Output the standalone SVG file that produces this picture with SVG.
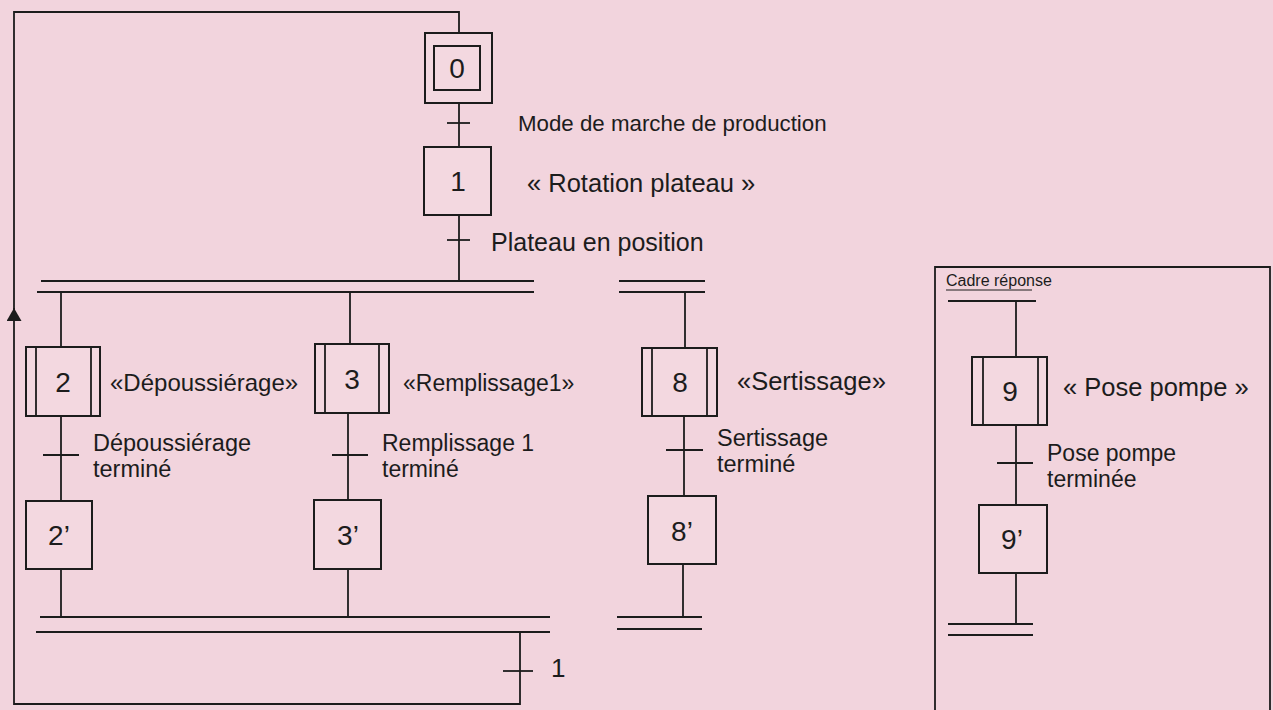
<svg xmlns="http://www.w3.org/2000/svg" width="1273" height="710" viewBox="0 0 1273 710">
<style>
.ln{stroke:#1c1c1c;stroke-width:1.8;fill:none}
.bar{stroke:#1c1c1c;stroke-width:2;fill:none}
.box{stroke:#1c1c1c;stroke-width:2;fill:#f3d8e0}
.num{font-family:"Liberation Sans",Arial,sans-serif;font-size:28px;fill:#1c1c1c;text-anchor:middle}
.lbl{font-family:"Liberation Sans",Arial,sans-serif;font-size:23.5px;fill:#1c1c1c}
.sm{font-family:"Liberation Sans",Arial,sans-serif;font-size:16px;fill:#1c1c1c}
</style>
<defs>
<marker id="arr" viewBox="0 0 10 10" refX="10" refY="5" markerUnits="userSpaceOnUse" markerWidth="13" markerHeight="15" preserveAspectRatio="none" orient="auto">
<path d="M0,0 L10,5 L0,10 z" fill="#1c1c1c"/>
</marker>
</defs>
<rect x="0" y="0" width="1273" height="710" fill="#f2d4dd"/>

<g id="connectors">
<path class="ln" d="M520,632 L520,704 L14,704 L14,308" marker-end="url(#arr)"/>
<path class="ln" d="M14,310 L14,12 L459,12 L459,33"/>
<line class="ln" x1="459" y1="103" x2="459" y2="147"/>
<line class="ln" x1="447" y1="123" x2="470" y2="123"/>
<line class="ln" x1="459" y1="215" x2="459" y2="281"/>
<line class="ln" x1="447" y1="240" x2="470" y2="240"/>
<line class="bar" x1="41" y1="281" x2="534" y2="281"/>
<line class="bar" x1="37" y1="292" x2="534" y2="292"/>
<line class="bar" x1="619" y1="281" x2="705" y2="281"/>
<line class="bar" x1="619" y1="292" x2="705" y2="292"/>
<line class="ln" x1="61" y1="292" x2="61" y2="347"/>
<line class="ln" x1="61" y1="416" x2="61" y2="501"/>
<line class="ln" x1="43" y1="455" x2="79" y2="455"/>
<line class="ln" x1="61" y1="569" x2="61" y2="617"/>
<line class="ln" x1="350" y1="292" x2="350" y2="344"/>
<line class="ln" x1="348" y1="413" x2="348" y2="500"/>
<line class="ln" x1="332" y1="455" x2="368" y2="455"/>
<line class="ln" x1="348" y1="569" x2="348" y2="617"/>
<line class="ln" x1="685" y1="292" x2="685" y2="348"/>
<line class="ln" x1="684" y1="416" x2="684" y2="496"/>
<line class="ln" x1="666" y1="450" x2="703" y2="450"/>
<line class="ln" x1="683" y1="564" x2="683" y2="617"/>
<line class="bar" x1="617" y1="617" x2="702" y2="617"/>
<line class="bar" x1="617" y1="629" x2="702" y2="629"/>
<line class="bar" x1="40" y1="617" x2="550" y2="617"/>
<line class="bar" x1="36" y1="632" x2="550" y2="632"/>
<line class="ln" x1="503" y1="671" x2="533" y2="671"/>
<line class="bar" x1="948" y1="301" x2="1036" y2="301"/>
<line class="ln" x1="1016" y1="301" x2="1016" y2="357"/>
<line class="ln" x1="1016" y1="425" x2="1016" y2="505"/>
<line class="ln" x1="997" y1="463" x2="1033" y2="463"/>
<line class="ln" x1="1016" y1="573" x2="1016" y2="624"/>
<line class="bar" x1="948" y1="624" x2="1033" y2="624"/>
<line class="bar" x1="948" y1="635" x2="1033" y2="635"/>
</g>

<g id="transition-labels">
<text class="lbl" x="518" y="131" style="font-size:22.3px">Mode de marche de production</text>
<text class="lbl" x="491" y="251" style="font-size:25px">Plateau en position</text>
<text class="lbl" x="93" y="451">Dépoussiérage</text>
<text class="lbl" x="93" y="477">terminé</text>
<text class="lbl" x="382" y="451" style="font-size:23px">Remplissage 1</text>
<text class="lbl" x="382" y="477" style="font-size:23px">terminé</text>
<text class="lbl" x="717" y="446">Sertissage</text>
<text class="lbl" x="717" y="472">terminé</text>
<text class="lbl" x="551" y="677" style="font-size:26px">1</text>
<text class="lbl" x="1047" y="461" style="font-size:23px">Pose pompe</text>
<text class="lbl" x="1047" y="487" style="font-size:23px">terminée</text>
</g>

<g id="step0">
<rect class="box" x="425" y="33" width="67" height="70"/>
<rect class="box" x="434" y="46" width="46" height="44"/>
<text class="num" x="457" y="78">0</text>
</g>
<g id="step1">
<rect class="box" x="424" y="147" width="67" height="68"/>
<text class="num" x="458" y="191">1</text>
<text class="lbl" x="527" y="192" style="font-size:25.5px">« Rotation plateau »</text>
</g>
<g id="step2">
<rect class="box" x="26" y="347" width="74" height="69"/>
<line class="ln" x1="36" y1="347" x2="36" y2="416"/>
<line class="ln" x1="91" y1="347" x2="91" y2="416"/>
<text class="num" x="63" y="392">2</text>
<text class="lbl" x="110" y="391" style="font-size:24px">«Dépoussiérage»</text>
</g>
<g id="step2p">
<rect class="box" x="26" y="501" width="66" height="68"/>
<text class="num" x="59" y="545">2’</text>
</g>
<g id="step3">
<rect class="box" x="315" y="344" width="74" height="69"/>
<line class="ln" x1="325" y1="344" x2="325" y2="413"/>
<line class="ln" x1="379" y1="344" x2="379" y2="413"/>
<text class="num" x="352" y="389">3</text>
<text class="lbl" x="403" y="391" style="font-size:23px">«Remplissage1»</text>
</g>
<g id="step3p">
<rect class="box" x="314" y="500" width="67" height="69"/>
<text class="num" x="348" y="545">3’</text>
</g>
<g id="step8">
<rect class="box" x="642" y="348" width="75" height="68"/>
<line class="ln" x1="652" y1="348" x2="652" y2="416"/>
<line class="ln" x1="707" y1="348" x2="707" y2="416"/>
<text class="num" x="680" y="392">8</text>
<text class="lbl" x="737" y="390" style="font-size:25.5px">«Sertissage»</text>
</g>
<g id="step8p">
<rect class="box" x="648" y="496" width="68" height="68"/>
<text class="num" x="682" y="541">8’</text>
</g>
<g id="answer-frame">
<path class="ln" d="M935,712 L935,267 L1270,267 L1270,712"/>
<text class="sm" x="946" y="286">Cadre réponse</text>
<line class="ln" x1="946" y1="290" x2="1032" y2="290" style="stroke-width:1.2"/>
</g>
<g id="step9">
<rect class="box" x="972" y="357" width="75" height="68"/>
<line class="ln" x1="983" y1="357" x2="983" y2="425"/>
<line class="ln" x1="1038" y1="357" x2="1038" y2="425"/>
<text class="num" x="1010" y="401">9</text>
<text class="lbl" x="1063" y="396" style="font-size:25.5px">« Pose pompe »</text>
</g>
<g id="step9p">
<rect class="box" x="979" y="505" width="68" height="68"/>
<text class="num" x="1012" y="549">9’</text>
</g>
</svg>
